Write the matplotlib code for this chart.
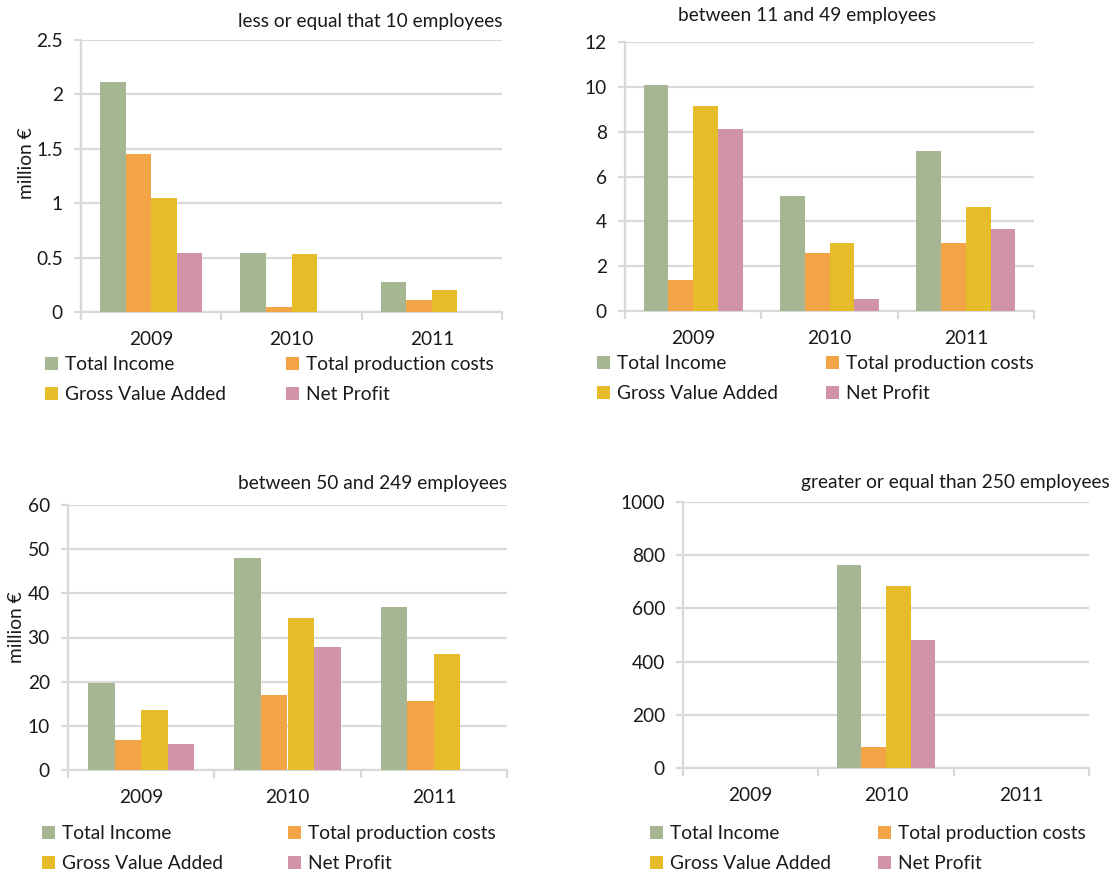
import numpy as np
import matplotlib
matplotlib.use("Agg")
import matplotlib.pyplot as plt
from matplotlib.patches import Patch

plt.rcParams['font.family'] = ['Lato', 'DejaVu Sans']

# Data (million €)
years = ["2009", "2010", "2011"]
series = ["Total Income", "Total production costs", "Gross Value Added", "Net Profit"]
colors = ["#A6B592", "#F2A446", "#E6BC29", "#D193A8"]

small_income = [2.11, 0.54, 0.28]
small_costs = [1.45, 0.05, 0.11]
small_gva = [1.05, 0.53, 0.20]
small_profit = [0.54, np.nan, np.nan]

mid_income = [10.1, 5.15, 7.15]
mid_costs = [1.4, 2.6, 3.05]
mid_gva = [9.15, 3.05, 4.65]
mid_profit = [8.1, 0.55, 3.65]

large_income = [19.8, 48.0, 37.0]
large_costs = [6.8, 17.0, 15.6]
large_gva = [13.6, 34.5, 26.2]
large_profit = [5.9, 27.9, np.nan]

xl_income = [np.nan, 765, np.nan]
xl_costs = [np.nan, 80, np.nan]
xl_gva = [np.nan, 685, np.nan]
xl_profit = [np.nan, 480, np.nan]

W, H = 1113, 876
fig = plt.figure(figsize=(W / 100, H / 100), dpi=100)

text_col = "#1A1A1A"
grid_col = "#D9D9D9"
fs = 13.8


def px_axes(left, top, right, bottom):
    return fig.add_axes([left / W, 1 - bottom / H, (right - left) / W, (bottom - top) / H])


def draw_panel(box, data, ymax, ystep, title, title_pos, title_ha, ylabel_pos, legend_pos, colspace):
    ax = px_axes(*box)
    x = np.arange(len(years))
    bw = 0.182
    for i, vals in enumerate(data):
        ax.bar(x + (i - 1.5) * bw, vals, width=bw, color=colors[i], zorder=3)
    ax.set_xlim(-0.5, 2.5)
    ax.set_ylim(0, ymax)
    yt = np.arange(0, ymax + ystep / 2, ystep)
    ax.set_yticks(yt)
    ax.set_yticklabels([f"{v:g}" for v in yt])
    ax.yaxis.grid(True, color=grid_col, linewidth=1.6, zorder=0)
    ax.set_axisbelow(True)
    ax.set_xticks(x)
    ax.set_xticklabels(years)
    ax.set_xticks([-0.5, 0.5, 1.5, 2.5], minor=True)
    ax.tick_params(axis='x', which='major', length=0, pad=14, labelsize=fs, labelcolor=text_col)
    ax.tick_params(axis='x', which='minor', length=6, width=1.6, color=grid_col)
    ax.tick_params(axis='y', length=5, width=1.6, color=grid_col, pad=8,
                   labelsize=fs, labelcolor=text_col)
    for s in ["top", "right"]:
        ax.spines[s].set_visible(False)
    for s in ["left", "bottom"]:
        ax.spines[s].set_color(grid_col)
        ax.spines[s].set_linewidth(1.6)
    fig.text(title_pos[0] / W, 1 - title_pos[1] / H, title, ha=title_ha, va='center',
             fontsize=fs, color=text_col)
    if ylabel_pos is not None:
        fig.text(ylabel_pos[0] / W, 1 - ylabel_pos[1] / H, "million €", rotation=90,
                 ha='center', va='center', fontsize=fs, color=text_col)
    # legend filled row by row, as in the original
    order = [0, 2, 1, 3]
    handles = [Patch(facecolor=colors[k], edgecolor='none') for k in order]
    labels = [series[k] for k in order]
    fig.legend(handles, labels, loc='upper left', ncol=2, frameon=False,
               bbox_to_anchor=(legend_pos[0] / W, 1 - legend_pos[1] / H),
               fontsize=fs, handlelength=0.7, handleheight=0.7, handletextpad=0.35,
               columnspacing=colspace, labelspacing=0.7, borderpad=0, borderaxespad=0,
               labelcolor=text_col)
    return ax


draw_panel((81, 40, 502, 312), [small_income, small_costs, small_gva, small_profit],
           2.5, 0.5, "less or equal that 10 employees", (502, 22), 'right', (27, 163),
           (45, 356), 3.1)
draw_panel((625, 42, 1034, 311), [mid_income, mid_costs, mid_gva, mid_profit],
           12, 2, "between 11 and 49 employees", (807, 16), 'center', None,
           (597, 355), 2.48)
draw_panel((68, 505, 507, 770), [large_income, large_costs, large_gva, large_profit],
           60, 10, "between 50 and 249 employees", (507, 483), 'right', (17, 627),
           (42, 825), 3.37)
draw_panel((683, 502, 1089, 768), [xl_income, xl_costs, xl_gva, xl_profit],
           1000, 200, "greater or equal than 250 employees", (1110, 482), 'right', None,
           (650, 825), 2.43)

fig.savefig("out.png", dpi=100)
